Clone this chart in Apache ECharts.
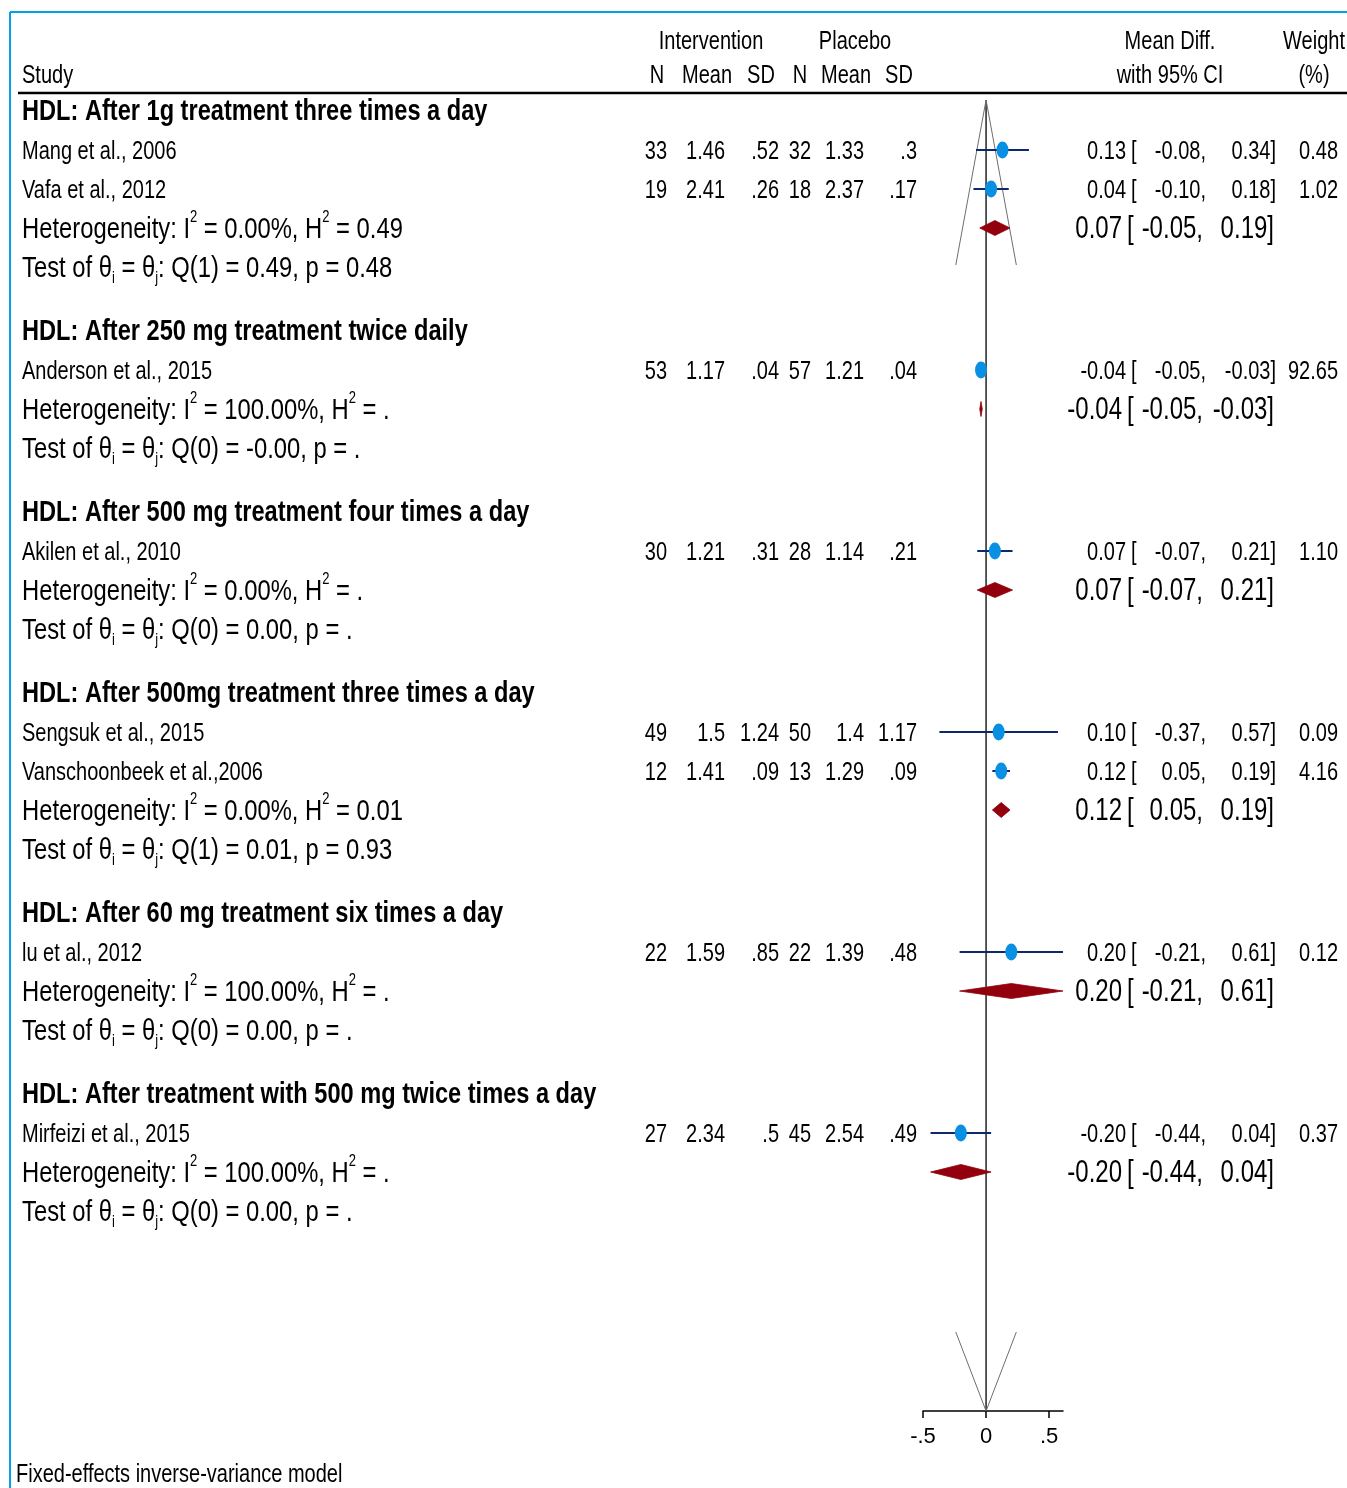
<!DOCTYPE html>
<html>
<head>
<meta charset="utf-8">
<script src="https://cdn.jsdelivr.net/npm/echarts@6/dist/echarts.min.js"></script>
<style>
html, body { margin: 0; padding: 0; background: #fff; }
#chart { width: 1347px; height: 1488px; }
</style>
</head>
<body>
<div id="chart"></div>
<script>
// ---- Subgroups ----
const groupTitles = [
  'HDL: After 1g treatment three times a day',
  'HDL: After 250 mg treatment twice daily',
  'HDL: After 500 mg treatment four times a day',
  'HDL: After 500mg treatment three times a day',
  'HDL: After 60 mg treatment six times a day',
  'HDL: After treatment with 500 mg twice times a day'
];

// ---- Studies ----
const studyNames = [
  'Mang et al., 2006', 'Vafa et al., 2012', 'Anderson et al., 2015', 'Akilen et al., 2010',
  'Sengsuk et al., 2015', 'Vanschoonbeek et al.,2006', 'lu et al., 2012', 'Mirfeizi et al., 2015'
];
const studyGroup = [0, 0, 1, 2, 3, 3, 4, 5];
const intN    = [33, 19, 53, 30, 49, 12, 22, 27];
const intMean = [1.46, 2.41, 1.17, 1.21, 1.5, 1.41, 1.59, 2.34];
const intSD   = [0.52, 0.26, 0.04, 0.31, 1.24, 0.09, 0.85, 0.5];
const plcN    = [32, 18, 57, 28, 50, 13, 22, 45];
const plcMean = [1.33, 2.37, 1.21, 1.14, 1.4, 1.29, 1.39, 2.54];
const plcSD   = [0.3, 0.17, 0.04, 0.21, 1.17, 0.09, 0.48, 0.49];
const studyMD = [0.13, 0.04, -0.04, 0.07, 0.10, 0.12, 0.20, -0.20];
const studyLo = [-0.08, -0.10, -0.05, -0.07, -0.37, 0.05, -0.21, -0.44];
const studyHi = [0.34, 0.18, -0.03, 0.21, 0.57, 0.19, 0.61, 0.04];
const weights = [0.48, 1.02, 92.65, 1.10, 0.09, 4.16, 0.12, 0.37];

// ---- Subgroup summaries ----
const pooledMD = [0.07, -0.04, 0.07, 0.12, 0.20, -0.20];
const pooledLo = [-0.05, -0.05, -0.07, 0.05, -0.21, -0.44];
const pooledHi = [0.19, -0.03, 0.21, 0.19, 0.61, 0.04];
const hetI2  = ['0.00%', '100.00%', '0.00%', '0.00%', '100.00%', '100.00%'];
const hetH2  = ['0.49', '.', '.', '0.01', '.', '.'];
const testDf = [1, 0, 0, 1, 0, 0];
const testQ  = ['0.49', '-0.00', '0.00', '0.01', '0.00', '0.00'];
const testP  = ['0.48', '.', '.', '0.93', '.', '.'];

// ---- Axis ticks ----
const xTicks = [-0.5, 0, 0.5];
const xMin = -0.5, xMax = 0.61;

// ---- Layout ----
const W = 1347, H = 1488;
const PLOT_LEFT = 923, PLOT_RIGHT = 1063, AXIS_Y = 1411;
const FIRST_ROW = 150, LINE = 39, GROUP_GAP = 64, TITLE_OFFSET = 40;
const TEXT_DY = 2;
const FONT = '"Liberation Sans", Arial, Helvetica, sans-serif';
const SY = 1.27;

function fmtStata(v) { return String(v).replace(/^0\./, '.').replace(/^-0\./, '-.'); }
function f2(v) { return v.toFixed(2); }

// row positions (pixel rows of the table)
const groupBase = [];
const studyY = [];
{
  let base = FIRST_ROW;
  groupTitles.forEach((_, g) => {
    groupBase.push(base);
    const members = studyGroup.map((sg, i) => sg === g ? i : -1).filter(i => i >= 0);
    members.forEach((i, k) => { studyY[i] = base + k * LINE; });
    base += (members.length + 2) * LINE + GROUP_GAP;
  });
}
const groupCount = groupTitles.map((_, g) => studyGroup.filter(s => s === g).length);
const pooledY = groupBase.map((b, g) => b + groupCount[g] * LINE);
const testY = pooledY.map(y => y + LINE);
const titleY = groupBase.map(b => b - TITLE_OFFSET);

// ---- Text cells ----
const texts = [];
function addText(text, x, y, align, size, opts) {
  texts.push(Object.assign({ text, x, y: y + TEXT_DY, align, size }, opts || {}));
}
addText('Intervention', 711, 40, 'center', 20);
addText('Placebo', 855, 40, 'center', 20);
addText('Mean Diff.', 1170, 40, 'center', 20);
addText('Weight', 1314, 40, 'center', 20);
addText('Study', 22, 74, 'left', 20);
addText('N', 657, 74, 'center', 20);
addText('Mean', 707, 74, 'center', 20);
addText('SD', 761, 74, 'center', 20);
addText('N', 800, 74, 'center', 20);
addText('Mean', 846, 74, 'center', 20);
addText('SD', 899, 74, 'center', 20);
addText('with 95% CI', 1170, 74, 'center', 20);
addText('(%)', 1314, 74, 'center', 20);

groupTitles.forEach((t, g) => {
  addText(t, 22, titleY[g], 'left', 23.6, { bold: true });
  addText('Heterogeneity: I{sup|2} = ' + hetI2[g] + ', H{sup|2} = ' + hetH2[g],
          22, pooledY[g], 'left', 23.8, { lh: 32 });
  addText('Test of \u03b8{sub|i} = \u03b8{sub|j}: Q(' + testDf[g] + ') = ' + testQ[g] + ', p = ' + testP[g],
          22, testY[g], 'left', 23.8, { lh: 28 });
  addText(f2(pooledMD[g]), 1122, pooledY[g], 'right', 24);
  addText('[', 1127, pooledY[g], 'left', 24);
  addText(f2(pooledLo[g]) + ',', 1203, pooledY[g], 'right', 24);
  addText(f2(pooledHi[g]) + ']', 1274, pooledY[g], 'right', 24);
});

studyNames.forEach((name, i) => {
  const y = studyY[i];
  addText(name, 22, y, 'left', 20);
  addText(String(intN[i]), 667, y, 'right', 20);
  addText(fmtStata(intMean[i]), 725, y, 'right', 20);
  addText(fmtStata(intSD[i]), 779, y, 'right', 20);
  addText(String(plcN[i]), 811, y, 'right', 20);
  addText(fmtStata(plcMean[i]), 864, y, 'right', 20);
  addText(fmtStata(plcSD[i]), 917, y, 'right', 20);
  addText(f2(studyMD[i]), 1126, y, 'right', 20);
  addText('[', 1131, y, 'left', 20);
  addText(f2(studyLo[i]) + ',', 1206, y, 'right', 20);
  addText(f2(studyHi[i]) + ']', 1276, y, 'right', 20);
  addText(f2(weights[i]), 1338, y, 'right', 20);
});
addText('Fixed-effects inverse-variance model', 16, 1473, 'left', 20);

function fontOf(size, bold) { return (bold ? 'bold ' : '') + size + 'px ' + FONT; }
const RICH = {
  sup: { font: fontOf(13), fill: '#000', verticalAlign: 'top', lineHeight: 13 },
  sub: { font: fontOf(13), fill: '#000', verticalAlign: 'bottom', lineHeight: 13 }
};

function renderText(params, api) {
  const t = texts[params.dataIndex];
  const p = api.coord([api.value(0), api.value(1)]);
  return {
    type: 'text',
    x: p[0], y: p[1], scaleX: 1, scaleY: SY,
    style: {
      text: t.text, x: 0, y: 0,
      font: fontOf(t.size, t.bold),
      fill: '#000',
      align: t.align, textAlign: t.align,
      verticalAlign: 'middle', textVerticalAlign: 'middle',
      lineHeight: t.lh || t.size,
      rich: RICH
    }
  };
}

// ---- Marks of the forest plot: CI whiskers and pooled diamonds ----
const whiskerData = studyNames.map((_, i) => [studyLo[i], studyHi[i], studyY[i]]);
const diamondData = groupTitles.map((_, g) => [pooledLo[g], pooledHi[g], pooledY[g], pooledMD[g]]);
const markerData = studyNames.map((_, i) => [studyMD[i], studyY[i]]);

function renderWhisker(params, api) {
  const a = api.coord([api.value(0), api.value(2)]);
  const b = api.coord([api.value(1), api.value(2)]);
  return {
    type: 'line',
    shape: { x1: a[0], y1: a[1], x2: b[0], y2: b[1] },
    style: { stroke: '#0c2a6b', lineWidth: 2 }
  };
}
function renderDiamond(params, api) {
  const y = api.value(2);
  const l = api.coord([api.value(0), y]);
  const r = api.coord([api.value(1), y]);
  const c = api.coord([api.value(3), y]);
  const h = 7.5;
  return {
    type: 'polygon',
    shape: { points: [[l[0], l[1]], [c[0], c[1] - h], [r[0], r[1]], [c[0], c[1] + h]] },
    style: { fill: '#92000e', stroke: '#92000e', lineWidth: 0.8 }
  };
}

const chart = echarts.init(document.getElementById('chart'), null, { renderer: 'canvas' });

chart.setOption({
  animation: false,
  backgroundColor: '#ffffff',
  grid: [
    { left: 0, top: 0, width: W, height: H },
    { left: PLOT_LEFT, top: 0, width: PLOT_RIGHT - PLOT_LEFT, height: AXIS_Y }
  ],
  xAxis: [
    { gridIndex: 0, type: 'value', min: 0, max: W, show: false },
    {
      gridIndex: 1, type: 'value', min: xMin, max: xMax, interval: 0.5,
      axisLine: { show: true, onZero: false, lineStyle: { color: '#000', width: 1.5 } },
      axisTick: { show: true, length: 7, lineStyle: { color: '#000', width: 1.5 } },
      splitLine: { show: false },
      axisLabel: {
        show: true, margin: 15, color: '#000', fontFamily: FONT, fontSize: 22,
        showMaxLabel: false,
        formatter: v => xTicks.some(t => Math.abs(t - v) < 1e-9) ? fmtStata(v) : ''
      }
    }
  ],
  yAxis: [
    { gridIndex: 0, type: 'value', min: 0, max: H, inverse: true, show: false },
    { gridIndex: 1, type: 'value', min: 0, max: AXIS_Y, inverse: true, show: false }
  ],
  graphic: [
    { type: 'line', shape: { x1: 10, y1: 12, x2: W, y2: 12 }, style: { stroke: '#00a3e6', lineWidth: 2 } },
    { type: 'line', shape: { x1: 10, y1: 12, x2: 10, y2: H }, style: { stroke: '#00a3e6', lineWidth: 2 } },
    { type: 'line', shape: { x1: 18, y1: 93, x2: W, y2: 93 }, style: { stroke: '#000', lineWidth: 2.5 } }
  ],
  series: [
    {
      type: 'custom', xAxisIndex: 0, yAxisIndex: 0,
      data: texts.map(t => [t.x, t.y]),
      renderItem: renderText, silent: true, z: 5
    },
    {
      // reference line at zero
      type: 'line', xAxisIndex: 1, yAxisIndex: 1, symbol: 'none', silent: true,
      data: [[0, 100], [0, AXIS_Y]],
      lineStyle: { color: '#000', width: 1.3 }, z: 2
    },
    {
      type: 'line', xAxisIndex: 1, yAxisIndex: 1, symbol: 'none', silent: true,
      data: [[-0.24, 265], [0, 100], [0.24, 265]],
      lineStyle: { color: '#6e6e6e', width: 1 }, z: 2
    },
    {
      type: 'line', xAxisIndex: 1, yAxisIndex: 1, symbol: 'none', silent: true,
      data: [[-0.24, 1332], [0, AXIS_Y], [0.24, 1332]],
      lineStyle: { color: '#6e6e6e', width: 1 }, z: 2
    },
    {
      type: 'custom', xAxisIndex: 1, yAxisIndex: 1, clip: false,
      data: whiskerData, renderItem: renderWhisker, silent: true, z: 3
    },
    {
      type: 'custom', xAxisIndex: 1, yAxisIndex: 1, clip: false,
      data: diamondData, renderItem: renderDiamond, silent: true, z: 3
    },
    {
      type: 'scatter', xAxisIndex: 1, yAxisIndex: 1, silent: true,
      data: markerData, symbol: 'circle', symbolSize: [12, 17],
      itemStyle: { color: '#0a90e3', opacity: 1 }, z: 4
    }
  ]
});
</script>
</body>
</html>
